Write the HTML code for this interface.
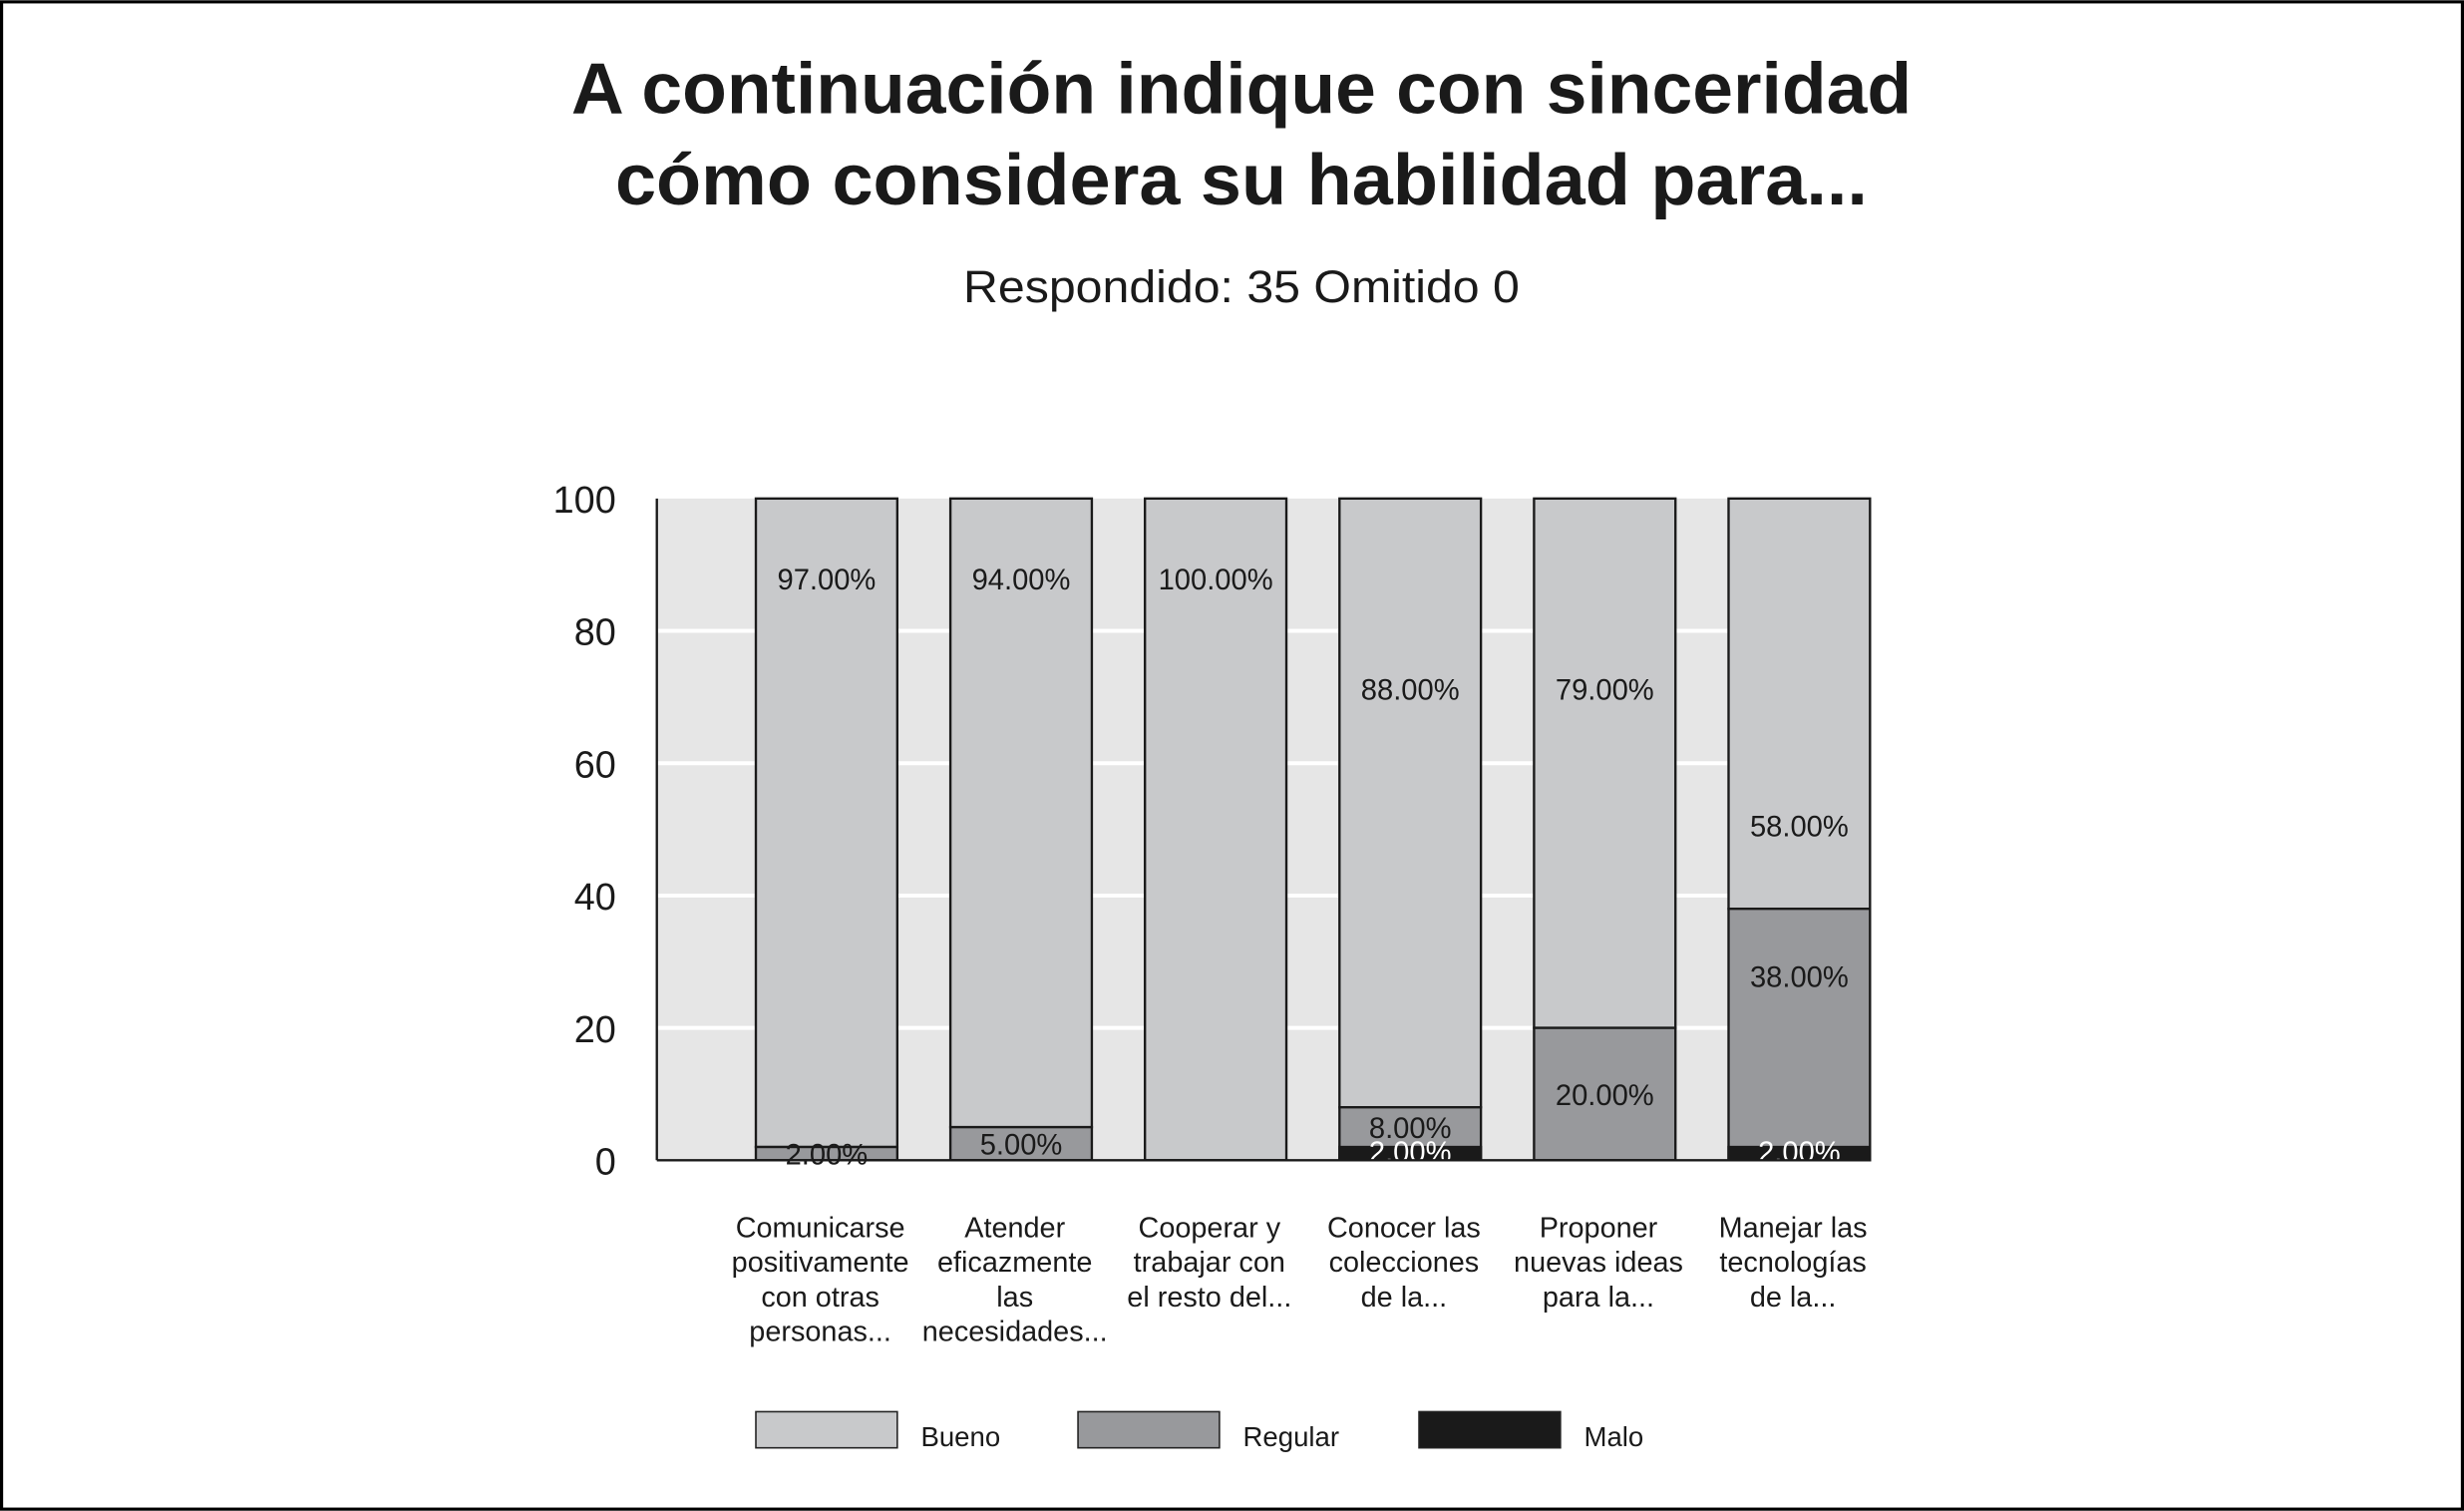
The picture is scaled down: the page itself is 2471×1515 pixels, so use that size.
<!DOCTYPE html>
<html><head><meta charset="utf-8"><style>
html,body{margin:0;padding:0;background:#fff}
svg{display:block;font-family:"Liberation Sans",Arial,sans-serif}
</style></head><body>
<svg id="c" width="2471" height="1515" viewBox="0 0 1568 961">
<rect x="1" y="1" width="1566" height="959" fill="#fff" stroke="#000" stroke-width="2"/>
<text x="790" y="72" text-anchor="middle" font-size="46" font-weight="bold" fill="#1a1a1a" textLength="853" lengthAdjust="spacingAndGlyphs">A continuación indique con sinceridad</text>
<text x="790" y="130" text-anchor="middle" font-size="46" font-weight="bold" fill="#1a1a1a" textLength="797" lengthAdjust="spacingAndGlyphs">cómo considera su habilidad para...</text>
<text x="790" y="192" text-anchor="middle" font-size="29" fill="#1a1a1a" textLength="354" lengthAdjust="spacingAndGlyphs">Respondido: 35 Omitido 0</text>
<g id="plot"></g>
</svg>
<script>
const categories=[["Comunicarse","positivamente","con otras","personas..."],["Atender","eficazmente","las","necesidades..."],["Cooperar y","trabajar con","el resto del..."],["Conocer las","colecciones","de la..."],["Proponer","nuevas ideas","para la..."],["Manejar las","tecnologías","de la..."]];
const bueno=[97,94,100,88,79,58];
const regular=[2,5,0,8,20,38];
const malo=[0,0,0,2,0,2];
const yTicks=[0,20,40,60,80,100];
const seriesNames=["Bueno","Regular","Malo"];
const NS="http://www.w3.org/2000/svg";
const g=document.getElementById('plot');
const X0=418,X1=1190,Y0=738,Y1=317,step=123.8,bw=90,off=63;
const y=v=>Y0-(v/100)*(Y0-Y1);
const xb=i=>X0+off+i*step;
function mk(t,a,txt){const e=document.createElementNS(NS,t);for(const k in a)e.setAttribute(k,a[k]);if(txt!==undefined)e.textContent=txt;g.appendChild(e);return e;}
let e=mk('rect',{x:X0,y:Y1,width:X1-X0,height:Y0-Y1,fill:'#e6e6e6'});


yTicks.forEach(t=>{
 if(t>0&&t<100){let l=mk('line',{x1:X0,x2:X1,y1:y(t),y2:y(t),stroke:'#fff','stroke-width':2.5});
 
 }
 let tx=mk('text',{x:392,y:y(t)+9,'text-anchor':'end','font-size':24,fill:'#1a1a1a'},String(t));
 
 
});
const colors=['#c8c9cb','#98999c','#1a1a1a'];
categories.forEach((c,i)=>{
 const vals=[bueno[i],regular[i],malo[i]];
 const segs=[[regular[i],100],[0,regular[i]],[0,malo[i]]];
 [0,1,2].forEach(s=>{
  const v=vals[s];if(v<=0)return;
  const [a,b]=segs[s];
  let r=mk('rect',{x:xb(i),y:y(b),width:bw,height:y(a)-y(b),fill:colors[s],stroke:'#1a1a1a','stroke-width':1.5});
  
  
 });
 [0,1,2].forEach(s=>{
  const v=vals[s];if(v<=0)return;
  const [a,b]=segs[s];
  let ly;
  if(s==0){ly=y(b)+58;if(v<90)ly+=70;if(v<65)ly+=87;}
  else if(s==1){const lo=Math.max(a,malo[i]);ly=(y(lo)+y(b))/2+7;if(v>30)ly-=33;}
  else ly=y(a)+1;
  let t=mk('text',{x:xb(i)+bw/2,y:ly,'text-anchor':'middle','font-size':18.5,fill:s==2?'#fff':'#1a1a1a'},v.toFixed(2)+'%');
  
  
 });
 c.forEach((ln,k)=>{
  let t=mk('text',{x:xb(i)+bw/2-4,y:787+k*22,'text-anchor':'middle','font-size':18.3,fill:'#1a1a1a'},ln);
  
  
 });
});
let ax=mk('line',{x1:X0,x2:X1,y1:Y0,y2:Y0,stroke:'#1a1a1a','stroke-width':1.5});


let ay=mk('line',{x1:X0,x2:X0,y1:Y1,y2:Y0,stroke:'#1a1a1a','stroke-width':1.5});


const legX=[481,686,903];
seriesNames.forEach((n,s)=>{
 let r=mk('rect',{x:legX[s],y:898,width:90,height:23,fill:colors[s],stroke:'#222','stroke-width':1});
 
 
 let t=mk('text',{x:legX[s]+105,y:920,'font-size':17.5,fill:'#1a1a1a'},n);
 
 
});
</script>
</body></html>
